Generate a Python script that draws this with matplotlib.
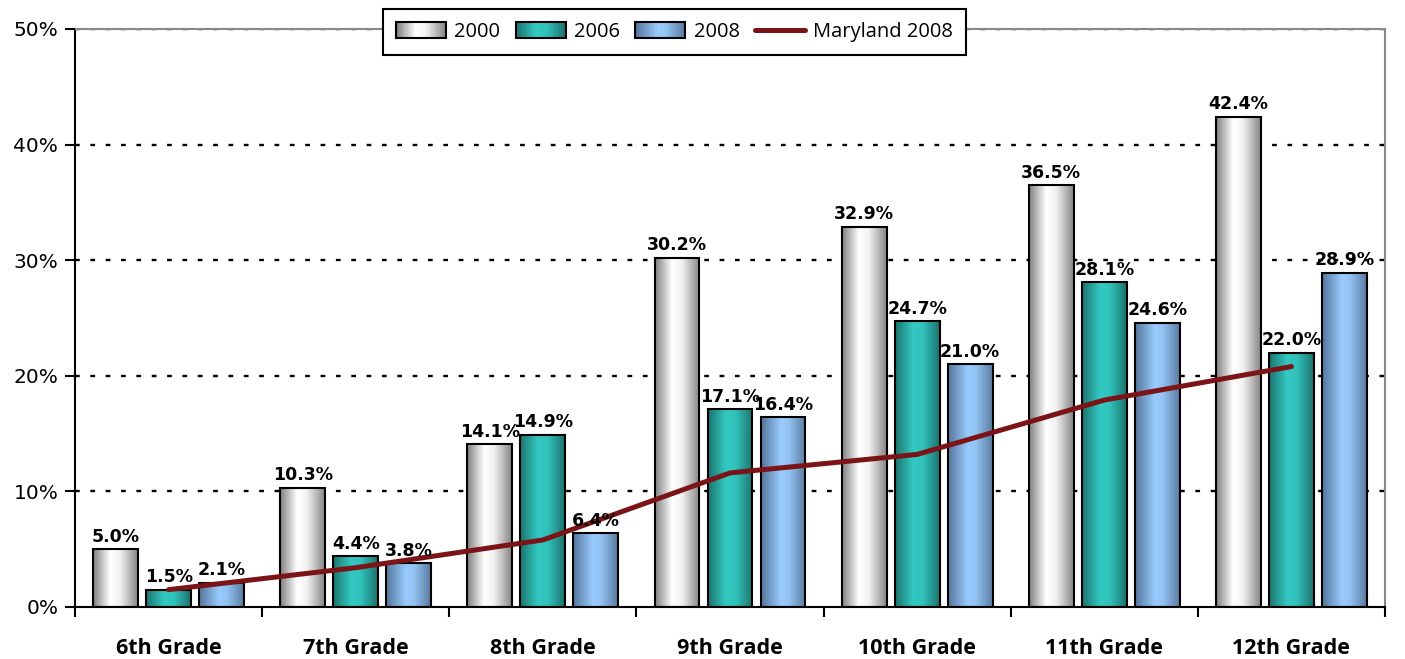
import numpy as np
import matplotlib
matplotlib.use("Agg")
import matplotlib.pyplot as plt
from matplotlib.colors import LinearSegmentedColormap
from matplotlib.patches import Rectangle
from matplotlib.legend_handler import HandlerBase
from matplotlib.lines import Line2D

categories = ["6th Grade", "7th Grade", "8th Grade", "9th Grade", "10th Grade", "11th Grade", "12th Grade"]
v2000 = [5.0, 10.3, 14.1, 30.2, 32.9, 36.5, 42.4]
v2006 = [1.5, 4.4, 14.9, 17.1, 24.7, 28.1, 22.0]
v2008 = [2.1, 3.8, 6.4, 16.4, 21.0, 24.6, 28.9]
maryland2008 = [1.5, 3.4, 5.8, 11.6, 13.2, 17.9, 20.8]
series_names = ["2000", "2006", "2008"]
line_name = "Maryland 2008"
yticks = [0, 10, 20, 30, 40, 50]

grads = {
    "2000": [(0.0, "#7f7f7f"), (0.38, "#ffffff"), (0.6, "#f2f2f2"), (1.0, "#858585")],
    "2006": [(0.0, "#1c736d"), (0.4, "#33c9c2"), (0.62, "#30c2bb"), (1.0, "#1d726c")],
    "2008": [(0.0, "#55759a"), (0.45, "#99ccff"), (0.62, "#92c3f2"), (1.0, "#5a7ba0")],
}
cmaps = {k: LinearSegmentedColormap.from_list(k, v) for k, v in grads.items()}

fig = plt.figure(figsize=(14.05, 6.59), dpi=100)
ax = fig.add_axes([75/1405, 1-607/659, 1310/1405, 578/659])

x = np.arange(len(categories))
width = 0.24
offs = [-0.283, 0.0, 0.283]
grad = np.linspace(0, 1, 256).reshape(1, -1)

for vals, off, name in zip([v2000, v2006, v2008], offs, series_names):
    bars = ax.bar(x + off, vals, width, facecolor="none", edgecolor="black", linewidth=1.5, zorder=3)
    for b, v in zip(bars, vals):
        x0 = b.get_x(); w = b.get_width()
        im = ax.imshow(grad, cmap=cmaps[name], aspect="auto", extent=[x0, x0 + w, 0, v], zorder=2.5)
        im.set_clip_path(b)
        ax.text(x0 + w/2, v + 0.3, f"{v:.1f}%", ha="center", va="bottom", fontsize=12.5,
                fontweight="bold", family="DejaVu Sans", zorder=5)

ax.plot(x, maryland2008, color="#7b1416", linewidth=3.6, solid_capstyle="round", zorder=4)

ax.set_xlim(-0.5, len(categories) - 0.5)
ax.set_ylim(0, 50)
ax.set_yticks(yticks)
ax.set_yticklabels([f"{t}%" for t in yticks], fontsize=14.5, family="DejaVu Sans")
for t in yticks[1:]:
    ax.axhline(t, color="black", linewidth=1.7, linestyle=(0, (2, 4.5)), zorder=1)

ax.set_xticks(x)
ax.set_xticklabels(categories, fontsize=15.5, fontweight="bold", family="Open Sans")
ax.set_xticks(np.arange(-0.5, len(categories), 1), minor=True)
ax.tick_params(axis="x", which="major", length=0, pad=22)
ax.tick_params(axis="x", which="minor", length=7, width=1.5, direction="out")
ax.tick_params(axis="y", length=7, width=1.5, direction="out", pad=5)

for s in ["left", "bottom"]:
    ax.spines[s].set_color("black"); ax.spines[s].set_linewidth(1.5)
for s in ["top", "right"]:
    ax.spines[s].set_color("#888888"); ax.spines[s].set_linewidth(1.5)
ax.set_axisbelow(False)


class GradHandler(HandlerBase):
    def __init__(self, cmap):
        super().__init__()
        self.cmap = cmap

    def create_artists(self, legend, orig_handle, xdescent, ydescent, width, height, fontsize, trans):
        arts = []
        n = 30
        for i in range(n):
            r = Rectangle((-xdescent + width * i / n, -ydescent), width / n + 0.3, height,
                          facecolor=self.cmap(i / (n - 1)), edgecolor="none", transform=trans)
            arts.append(r)
        arts.append(Rectangle((-xdescent, -ydescent), width, height, facecolor="none",
                              edgecolor="black", linewidth=1.5, transform=trans))
        return arts


handles = [Rectangle((0, 0), 1, 1, label=n) for n in series_names]
lh = Line2D([0], [0], color="#7b1416", linewidth=3.6, solid_capstyle="round")
hmap = {h: GradHandler(cmaps[n]) for h, n in zip(handles, series_names)}
leg = fig.legend(handles + [lh], series_names + [line_name], handler_map=hmap,
                 loc="upper left", bbox_to_anchor=(383/1405, 1 - 9/659), ncol=4,
                 borderaxespad=0, fancybox=False, frameon=True, edgecolor="black", framealpha=1,
                 prop={"family": "Open Sans", "size": 14.5}, handlelength=2.5, handleheight=0.8,
                 columnspacing=0.75, handletextpad=0.4, borderpad=0.65)
leg.get_frame().set_linewidth(1.5)

fig.savefig("out.png", dpi=100)
